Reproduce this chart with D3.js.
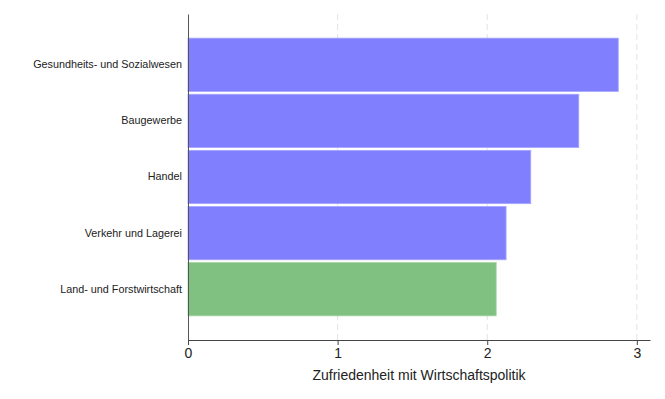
<!DOCTYPE html>
<html lang="de">
<head>
    <meta charset="UTF-8">
    <title>Zufriedenheit mit Wirtschaftspolitik</title>
    <script src="https://d3js.org/d3.v7.min.js"></script>
    <style>
        body { margin: 0; background: #fff; }
        text { font-family: "Liberation Sans", Arial, sans-serif; fill: #222; }
        .grid line { stroke: #e4e4e4; stroke-dasharray: 6,4; }
    </style>
</head>
<body>
    <div id="chart"></div>
    <script>
        // Sectors, top to bottom
        const sectors = ["Gesundheits- und Sozialwesen", "Baugewerbe", "Handel", "Verkehr und Lagerei", "Land- und Forstwirtschaft"];
        const values = [2.876, 2.612, 2.291, 2.126, 2.060];
        const highlight = [false, false, false, false, true]; // green bar
        const xTicks = [0, 1, 2, 3];
        const xTitle = "Zufriedenheit mit Wirtschaftspolitik";

        const W = 665, H = 399;
        const margin = {top: 14, right: 15, bottom: 59, left: 188};
        const width = W - margin.left - margin.right,
              height = H - margin.top - margin.bottom;

        const svg = d3.select("#chart").append("svg")
            .attr("width", W)
            .attr("height", H)
            .append("g")
            .attr("transform", `translate(${margin.left},${margin.top})`);

        const x = d3.scaleLinear().domain([0, 3.088]).range([0, width]);
        const y = d3.scaleBand().domain(sectors).range([0, height])
            .paddingInner(0.05).paddingOuter(0.43);

        // dashed vertical grid
        svg.append("g")
            .attr("class", "grid")
            .selectAll("line")
            .data(xTicks.filter(d => d > 0))
            .join("line")
            .attr("x1", d => x(d)).attr("x2", d => x(d))
            .attr("y1", 0).attr("y2", height);

        // bars
        svg.selectAll(".bar")
            .data(sectors)
            .join("rect")
            .attr("class", "bar")
            .attr("x", 0)
            .attr("y", d => y(d))
            .attr("height", y.bandwidth())
            .attr("width", (d, i) => x(values[i]))
            .attr("fill", (d, i) => highlight[i] ? "#80c080" : "#8080ff")
            .attr("stroke", (d, i) => highlight[i] ? "#a6d6a6" : "#a6a6ff")
            .attr("stroke-width", 0.8);

        // x axis
        const xAxis = svg.append("g")
            .attr("transform", `translate(0,${height})`)
            .call(d3.axisBottom(x).tickValues(xTicks).tickFormat(d3.format("d")).tickSize(5).tickPadding(3).tickSizeOuter(0));
        xAxis.select(".domain").attr("stroke", "#444");
        xAxis.selectAll(".tick line").attr("stroke", "#444");
        xAxis.selectAll("text").style("font-size", "14px").attr("fill", "#222");

        // y axis (line only, labels right-aligned)
        const yAxis = svg.append("g")
            .call(d3.axisLeft(y).tickSize(0).tickPadding(6).tickSizeOuter(0));
        yAxis.select(".domain").attr("stroke", "#555");
        yAxis.selectAll("text").style("font-size", "10.8px").attr("fill", "#222");

        // axis title
        svg.append("text")
            .attr("x", width / 2)
            .attr("y", height + 40)
            .attr("text-anchor", "middle")
            .style("font-size", "14px")
            .text(xTitle);
    </script>
</body>
</html>
